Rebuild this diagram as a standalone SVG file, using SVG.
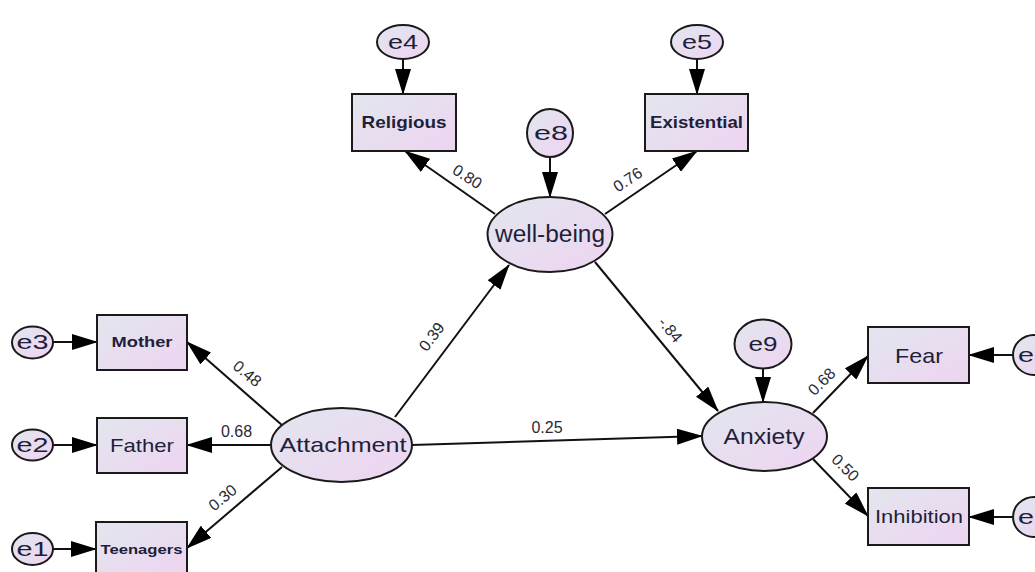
<svg xmlns="http://www.w3.org/2000/svg" width="1035" height="572" viewBox="0 0 1035 572">
<style>
.n{stroke:#1a1a1a;stroke-width:2;fill:url(#g)}
.t{font-family:"Liberation Sans",Arial,sans-serif;fill:#1e1f3a;text-anchor:middle}
.b{font-weight:bold}
.c{stroke:#111;stroke-width:2;fill:none;marker-end:url(#ah)}
.l{font-family:"Liberation Sans",Arial,sans-serif;font-size:16px;fill:#2a2a35;text-anchor:middle}
</style>
<defs>
<linearGradient id="g" x1="0" y1="0" x2="1" y2="1">
<stop offset="0" stop-color="#e2e6ee"/>
<stop offset="1" stop-color="#eed4f1"/>
</linearGradient>
<marker id="ah" markerUnits="userSpaceOnUse" markerWidth="26" markerHeight="16" refX="25" refY="8" orient="auto" viewBox="0 0 26 16">
<path d="M0,0 L26,8 L0,16 z" fill="#000"/>
</marker>
</defs>
<g id="connectors">
<line class="c" x1="403" y1="59" x2="403" y2="94"/>
<line class="c" x1="697" y1="59" x2="697" y2="94"/>
<line class="c" x1="550" y1="157" x2="550" y2="197"/>
<line class="c" x1="495" y1="214" x2="405" y2="151"/>
<line class="c" x1="605" y1="214" x2="697" y2="151"/>
<line class="c" x1="53" y1="342" x2="97" y2="342"/>
<line class="c" x1="53" y1="445" x2="97" y2="445"/>
<line class="c" x1="53" y1="549" x2="96" y2="549"/>
<line class="c" x1="283" y1="426" x2="187" y2="342"/>
<line class="c" x1="271" y1="445" x2="187" y2="445"/>
<line class="c" x1="282" y1="467" x2="187" y2="548"/>
<line class="c" x1="395" y1="417" x2="509" y2="265"/>
<line class="c" x1="412" y1="445" x2="702" y2="436"/>
<line class="c" x1="595" y1="262" x2="718" y2="411"/>
<line class="c" x1="763" y1="368" x2="763" y2="402"/>
<line class="c" x1="813" y1="413" x2="868" y2="356"/>
<line class="c" x1="813" y1="459" x2="868" y2="516"/>
<line class="c" x1="1013" y1="355" x2="969" y2="355"/>
<line class="c" x1="1013" y1="517" x2="969" y2="517"/>
<text class="l" transform="translate(467,177) rotate(33)" y="5">0.80</text>
<text class="l" transform="translate(628,180) rotate(-33)" y="5">0.76</text>
<text class="l" transform="translate(247,374) rotate(40)" y="5">0.48</text>
<text class="l" x="236.5" y="437">0.68</text>
<text class="l" transform="translate(223,498) rotate(-40)" y="5">0.30</text>
<text class="l" transform="translate(432,337) rotate(-53)" y="5">0.39</text>
<text class="l" x="547" y="433">0.25</text>
<text class="l" transform="translate(670,330) rotate(50)" y="5">-.84</text>
<text class="l" transform="translate(822,382) rotate(-45)" y="5">0.68</text>
<text class="l" transform="translate(845,468) rotate(45)" y="5">0.50</text>
</g>
<g id="e4"><ellipse class="n" cx="403" cy="42" rx="26" ry="17"/><text class="t" x="403" y="49" font-size="21" textLength="30" lengthAdjust="spacingAndGlyphs">e4</text></g>
<g id="e5"><ellipse class="n" cx="697" cy="42" rx="26" ry="17"/><text class="t" x="697" y="49" font-size="21" textLength="30" lengthAdjust="spacingAndGlyphs">e5</text></g>
<g id="religious"><rect class="n" x="352" y="94" width="104" height="57"/><text class="t b" x="404" y="128" font-size="17" textLength="85" lengthAdjust="spacingAndGlyphs">Religious</text></g>
<g id="existential"><rect class="n" x="645" y="94" width="103" height="57"/><text class="t b" x="696.5" y="128" font-size="17" textLength="93" lengthAdjust="spacingAndGlyphs">Existential</text></g>
<g id="e8"><ellipse class="n" cx="550" cy="133" rx="23" ry="24"/><text class="t" x="551" y="140" font-size="20" textLength="34" lengthAdjust="spacingAndGlyphs">e8</text></g>
<g id="well-being"><ellipse class="n" cx="550" cy="234.5" rx="62.5" ry="37.5"/><text class="t" x="550" y="242" font-size="23" textLength="110" lengthAdjust="spacingAndGlyphs">well-being</text></g>
<g id="e3"><ellipse class="n" cx="32.5" cy="342.5" rx="20.5" ry="16"/><text class="t" x="32.5" y="349" font-size="20" textLength="32" lengthAdjust="spacingAndGlyphs">e3</text></g>
<g id="mother"><rect class="n" x="97" y="315" width="90" height="55"/><text class="t b" x="142" y="347" font-size="14" textLength="61" lengthAdjust="spacingAndGlyphs">Mother</text></g>
<g id="e2"><ellipse class="n" cx="32.5" cy="445" rx="20.5" ry="15.5"/><text class="t" x="32.5" y="452" font-size="20" textLength="32" lengthAdjust="spacingAndGlyphs">e2</text></g>
<g id="father"><rect class="n" x="97" y="418" width="90" height="55"/><text class="t" x="142" y="452" font-size="19" textLength="64" lengthAdjust="spacingAndGlyphs">Father</text></g>
<g id="e1"><ellipse class="n" cx="32.5" cy="549" rx="20.5" ry="16"/><text class="t" x="32.5" y="556" font-size="20" textLength="32" lengthAdjust="spacingAndGlyphs">e1</text></g>
<g id="teenagers"><rect class="n" x="96" y="522" width="91" height="56"/><text class="t b" x="141.5" y="554" font-size="13.5" textLength="82" lengthAdjust="spacingAndGlyphs">Teenagers</text></g>
<g id="attachment"><ellipse class="n" cx="341.5" cy="445" rx="70.5" ry="37"/><text class="t" x="343" y="452" font-size="21" textLength="127" lengthAdjust="spacingAndGlyphs">Attachment</text></g>
<g id="e9"><ellipse class="n" cx="763" cy="344" rx="28.5" ry="24.5"/><text class="t" x="763" y="351" font-size="20" textLength="29" lengthAdjust="spacingAndGlyphs">e9</text></g>
<g id="anxiety"><ellipse class="n" cx="764.5" cy="436.5" rx="62.5" ry="34.5"/><text class="t" x="764" y="444" font-size="22" textLength="81" lengthAdjust="spacingAndGlyphs">Anxiety</text></g>
<g id="fear"><rect class="n" x="868" y="327" width="101" height="56"/><text class="t" x="919" y="363" font-size="21" textLength="48" lengthAdjust="spacingAndGlyphs">Fear</text></g>
<g id="inhibition"><rect class="n" x="868" y="488" width="101" height="57"/><text class="t" x="919" y="523" font-size="19" textLength="88" lengthAdjust="spacingAndGlyphs">Inhibition</text></g>
<g id="e6"><ellipse class="n" cx="1034" cy="355" rx="21" ry="20"/><text class="t" x="1034" y="362" font-size="20" textLength="32" lengthAdjust="spacingAndGlyphs">e6</text></g>
<g id="e7"><ellipse class="n" cx="1034" cy="517" rx="21" ry="20"/><text class="t" x="1034" y="524" font-size="20" textLength="32" lengthAdjust="spacingAndGlyphs">e7</text></g>
</svg>
